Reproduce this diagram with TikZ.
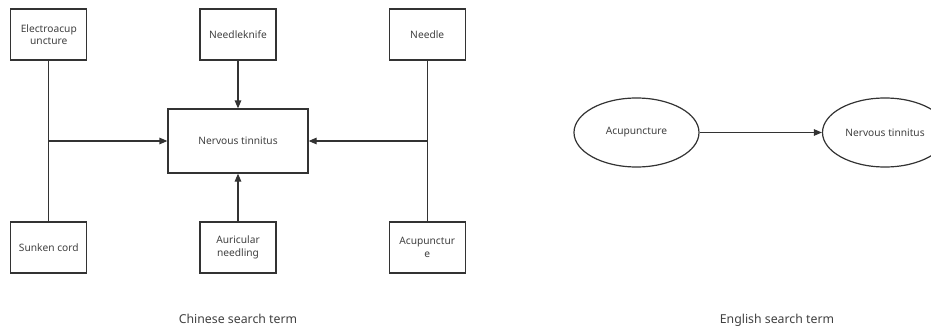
\documentclass[tikz,border=0pt]{standalone}
\usepackage{fontspec}
\setmainfont{Noto Sans}
\usepackage{tikz}
\usetikzlibrary{arrows.meta,positioning,shapes.geometric}

\begin{document}
\begin{tikzpicture}[
  x=1pt,y=-1pt,
  font=\fontsize{10.2}{12.6}\selectfont,
  every node/.style={text=black!75},
  term/.style={draw=black!80,line width=1.2pt,align=center,minimum width=76pt,minimum height=51pt,inner sep=2pt},
  hub/.style={draw=black!80,line width=1.2pt,minimum width=140pt,minimum height=64pt},
  oval/.style={draw=black!80,line width=1.2pt,ellipse,minimum width=125pt,minimum height=69pt,inner sep=0pt},
  caption/.style={font=\fontsize{12.3}{14}\selectfont},
  link/.style={draw=black!80,line width=1.2pt},
  rel/.style={link,-{Triangle[length=8pt,width=6.5pt]}}
]
\useasboundingbox (0,0) rectangle (931,329);
\node[hub] (tin) at (238,141) {Nervous tinnitus};
\node[term] (knife) at (238,34.5) {Needleknife};
\node[term] (auric) at (238,247.5) {Auricular\\needling};
\node[term,left=112pt of knife] (elec) {Electroacup\\uncture};
\node[term,left=112pt of auric] (sunk) {Sunken cord};
\node[term,right=112pt of knife] (needle) {Needle};
\node[term,right=112pt of auric] (acup) {Acupunctur\\e};
\draw[link] (elec) -- (sunk);
\draw[link] (needle) -- (acup);
\draw[rel] (elec |- tin) -- (tin.west);
\draw[rel] (needle |- tin) -- (tin.east);
\draw[rel] (knife) -- (tin);
\draw[rel] (auric) -- (tin);
\node[caption] (zh) at (238,319) {Chinese search term};

\node[oval] (acu) at (636.5,132.5) {Acupuncture};
\node[oval] (nt) at (885,132.5) {Nervous tinnitus};
\draw[rel] (acu) -- (nt);
\node[caption] (en) at (777,320) {English search term};
\end{tikzpicture}
\end{document}
